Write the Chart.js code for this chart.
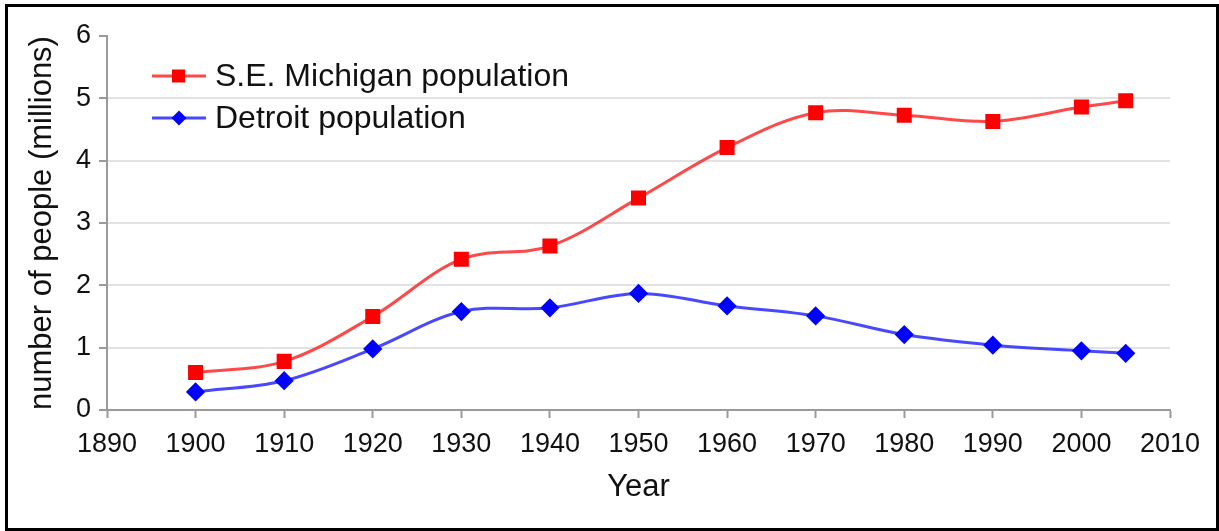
<!DOCTYPE html>
<html>
<head>
<meta charset="utf-8">
<script src="https://cdn.jsdelivr.net/npm/chart.js@4.4.1/dist/chart.umd.min.js"></script>
<style>
  html, body { margin: 0; padding: 0; background: #fff; }
  #marco { position: absolute; left: 5px; top: 4px; width: 1208px; height: 521px; border: 3px solid #000; }
  #lienzo { position: absolute; left: 0; top: 0; }
</style>
</head>
<body>
<div id="marco"></div>
<canvas id="lienzo" width="1219" height="531"></canvas>
<script>
// Datos
const anios = [1900, 1910, 1920, 1930, 1940, 1950, 1960, 1970, 1980, 1990, 2000, 2005];
const surestoMichigan = [0.60, 0.78, 1.50, 2.42, 2.63, 3.40, 4.21, 4.77, 4.73, 4.63, 4.86, 4.96];
const detroit = [0.29, 0.47, 0.98, 1.58, 1.64, 1.87, 1.67, 1.51, 1.21, 1.04, 0.95, 0.91];
const etiquetas = ['S.E. Michigan population', 'Detroit population'];
const tituloX = 'Year';
const tituloY = 'number of people (millions)';

const FUENTE = "'Liberation Sans', Arial, sans-serif";
const TEXTO = '#111';
const EJE = '#9a9a9a';

const aPuntos = serie => serie.map((v, i) => ({ x: anios[i], y: v }));

// Leyenda propia: línea con marcador, como en Excel
const leyenda = {
  id: 'leyenda',
  afterDraw(chart) {
    const ctx = chart.ctx;
    chart.data.datasets.forEach((ds, i) => {
      const y = 76 + i * 42;
      ctx.save();
      ctx.strokeStyle = ds.borderColor;
      ctx.lineWidth = 3;
      ctx.beginPath();
      ctx.moveTo(152, y);
      ctx.lineTo(206, y);
      ctx.stroke();
      ctx.fillStyle = ds.pointBackgroundColor;
      ctx.beginPath();
      if (ds.pointStyle === 'rect') {
        ctx.rect(172, y - 6.5, 13, 13);
      } else {
        ctx.moveTo(179, y - 7.5);
        ctx.lineTo(186.5, y);
        ctx.lineTo(179, y + 7.5);
        ctx.lineTo(171.5, y);
        ctx.closePath();
      }
      ctx.fill();
      ctx.fillStyle = TEXTO;
      ctx.font = '32px ' + FUENTE;
      ctx.textBaseline = 'middle';
      ctx.fillText(ds.label, 215, y + 1);
      ctx.restore();
    });
  }
};

new Chart(document.getElementById('lienzo'), {
  type: 'line',
  data: {
    datasets: [
      {
        label: etiquetas[0],
        data: aPuntos(surestoMichigan),
        borderColor: 'rgba(255, 40, 40, 0.85)',
        pointBackgroundColor: '#ff0000',
        pointBorderColor: '#ff0000',
        pointStyle: 'rect',
        pointRadius: 8.5,
        borderWidth: 3,
        tension: 0.35
      },
      {
        label: etiquetas[1],
        data: aPuntos(detroit),
        borderColor: 'rgba(40, 40, 255, 0.85)',
        pointBackgroundColor: '#0000ff',
        pointBorderColor: '#0000ff',
        pointStyle: 'rectRot',
        pointRadius: 7.5,
        borderWidth: 3,
        tension: 0.35
      }
    ]
  },
  options: {
    responsive: false,
    animation: false,
    layout: { padding: { left: 0, top: 36, right: 49, bottom: 0 } },
    plugins: { legend: { display: false }, tooltip: { enabled: false } },
    scales: {
      x: {
        type: 'linear',
        min: 1890,
        max: 2010,
        afterFit: s => { s.height = 121; },
        ticks: {
          stepSize: 10,
          padding: 10,
          color: TEXTO,
          font: { family: FUENTE, size: 27 },
          maxRotation: 0,
          callback: v => String(v)
        },
        grid: { drawOnChartArea: false, drawTicks: true, tickLength: 8, tickColor: EJE, tickWidth: 2 },
        border: { color: EJE, width: 2 },
        title: {
          display: true,
          text: tituloX,
          color: TEXTO,
          font: { family: FUENTE, size: 31 },
          padding: { top: 0, bottom: 25 }
        }
      },
      y: {
        min: 0,
        max: 6,
        afterFit: s => { s.width = 107; },
        ticks: {
          stepSize: 1,
          padding: 8,
          color: TEXTO,
          font: { family: FUENTE, size: 27 }
        },
        grid: {
          color: ctx => (ctx.tick && (ctx.tick.value === 6 || ctx.tick.value === 0)) ? 'rgba(0,0,0,0)' : '#e2e2e2',
          lineWidth: 2,
          tickLength: 8,
          tickColor: EJE,
          tickWidth: 2
        },
        border: { color: EJE, width: 2 },
        title: {
          display: true,
          text: tituloY,
          color: TEXTO,
          font: { family: FUENTE, size: 31 },
          padding: { top: 24, bottom: 0 }
        }
      }
    }
  },
  plugins: [leyenda]
});
</script>
</body>
</html>
